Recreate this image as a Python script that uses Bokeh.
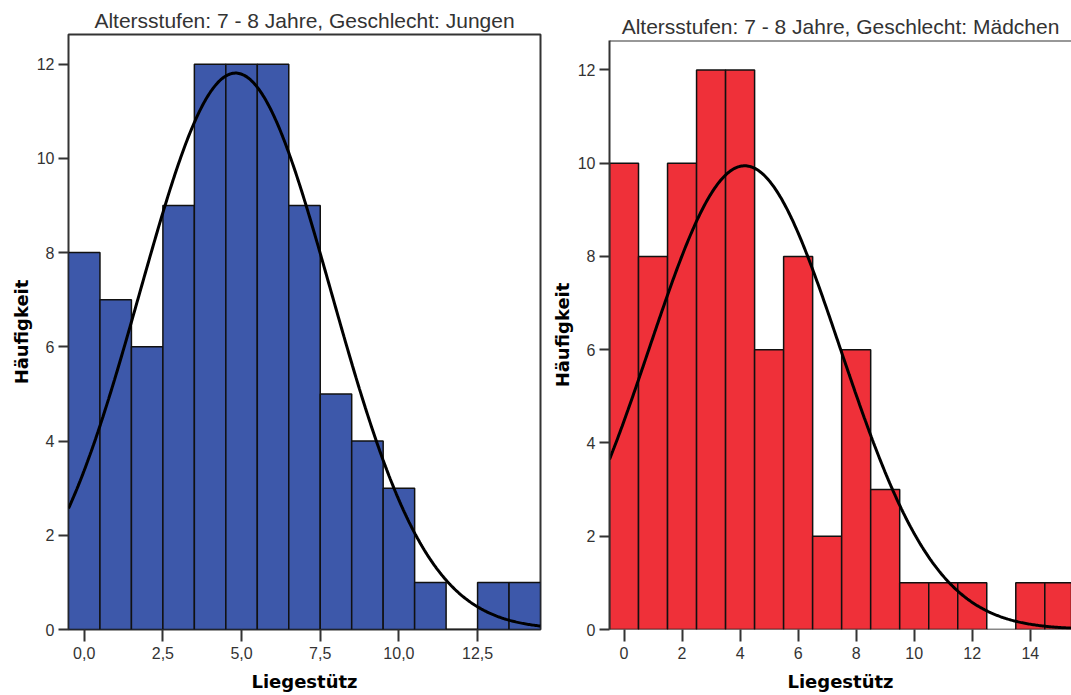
import numpy as np
from bokeh.plotting import figure
from bokeh.layouts import row
from bokeh.models import FixedTicker, Span, Range1d
from bokeh.embed import file_html
from bokeh.resources import INLINE

# ---- data ----
bins_jungen = list(range(0, 15))
counts_jungen = [8, 7, 6, 9, 12, 12, 12, 9, 5, 4, 3, 1, 0, 1, 1]
bins_maedchen = list(range(0, 16))
counts_maedchen = [10, 8, 10, 12, 12, 6, 8, 2, 6, 3, 1, 1, 1, 0, 1, 1]

# normal curve parameters (mean, sd) of each group
mean_jungen, sd_jungen = 4.81, 3.04
mean_maedchen, sd_maedchen = 4.16, 3.29

xticks_jungen = [0, 2.5, 5, 7.5, 10, 12.5]
xticklabels_jungen = ["0,0", "2,5", "5,0", "7,5", "10,0", "12,5"]
xticks_maedchen = [0, 2, 4, 6, 8, 10, 12, 14]
xticklabels_maedchen = ["0", "2", "4", "6", "8", "10", "12", "14"]
yticks = [0, 2, 4, 6, 8, 10, 12]

title_jungen = "Altersstufen: 7 - 8 Jahre, Geschlecht: Jungen"
title_maedchen = "Altersstufen: 7 - 8 Jahre, Geschlecht: Mädchen"
xlabel = "Liegestütz"
ylabel = "Häufigkeit"

BLUE = "#3d58aa"
RED = "#ef3039"
AXC = "#333333"


def normal_curve(xs, n, mu, sd):
    return n / (sd * np.sqrt(2 * np.pi)) * np.exp(-((xs - mu) ** 2) / (2 * sd * sd))


def make_panel(bins, counts, mu, sd, color, title, xr, width, border_left,
               border_right, border_top, title_standoff, xticks, xticklabels, outline):
    p = figure(width=width, height=695, output_backend="svg", toolbar_location=None,
               x_range=Range1d(*xr), y_range=Range1d(0, 12.63),
               min_border_left=border_left, min_border_right=border_right,
               min_border_top=border_top, min_border_bottom=66,
               background_fill_color="white", border_fill_color="white")
    try:
        p.frame_align = False
    except Exception:
        pass
    p.title.text = title
    p.title.align = "center"
    p.title.text_font = "Liberation Sans"
    p.title.text_font_size = "21px"
    p.title.text_font_style = "normal"
    p.title.text_color = "#333333"
    p.title.standoff = title_standoff
    p.grid.visible = False

    p.vbar(x=bins, top=counts, width=1.0, bottom=0, fill_color=color,
           line_color="#111111", line_width=1.5)

    xs = np.linspace(xr[0], xr[1], 400)
    ys = normal_curve(xs, sum(counts), mu, sd)
    p.line(xs, ys, line_color="black", line_width=3)

    if outline:
        p.outline_line_color = AXC
        p.outline_line_width = 2
        p.yaxis.axis_line_color = None
    else:
        p.outline_line_color = None
        p.yaxis.axis_line_color = AXC
        p.yaxis.axis_line_width = 2
        p.add_layout(Span(location=12.63, dimension="width", line_color=AXC, line_width=2))

    p.xaxis.axis_line_color = None
    p.xaxis.ticker = FixedTicker(ticks=xticks)
    p.xaxis.major_label_overrides = {t: l for t, l in zip(xticks, xticklabels)}
    p.yaxis.ticker = FixedTicker(ticks=yticks)
    for ax in (p.xaxis[0], p.yaxis[0]):
        ax.minor_tick_line_color = None
        ax.major_tick_in = 0
        ax.major_tick_line_color = AXC
        ax.major_tick_line_width = 2
        ax.major_label_text_font = "Liberation Sans"
        ax.major_label_text_font_size = "16px"
        ax.major_label_text_color = "#333333"
        ax.axis_label_text_font = "DejaVu Sans"
        ax.axis_label_text_font_style = "bold"
        ax.axis_label_text_font_size = "18px"
        ax.axis_label_text_color = "black"
    p.xaxis.major_tick_out = 12
    p.yaxis.major_tick_out = 10
    p.xaxis.major_label_standoff = 5
    p.yaxis.major_label_standoff = 4
    p.xaxis.axis_label = xlabel
    p.yaxis.axis_label = ylabel
    p.xaxis.axis_label_standoff = 9
    p.yaxis.axis_label_standoff = 2
    return p


p1 = make_panel(bins_jungen, counts_jungen, mean_jungen, sd_jungen, BLUE, title_jungen,
                (-0.5, 14.5), 545, 68, 5, 34, 5, xticks_jungen, xticklabels_jungen, True)
p2 = make_panel(bins_maedchen, counts_maedchen, mean_maedchen, sd_maedchen, RED, title_maedchen,
                (-0.5, 15.42), 526, 64, 0, 40, 5, xticks_maedchen, xticklabels_maedchen, False)

layout = row(p1, p2)
open("out.html", "w").write(file_html(layout, INLINE))
